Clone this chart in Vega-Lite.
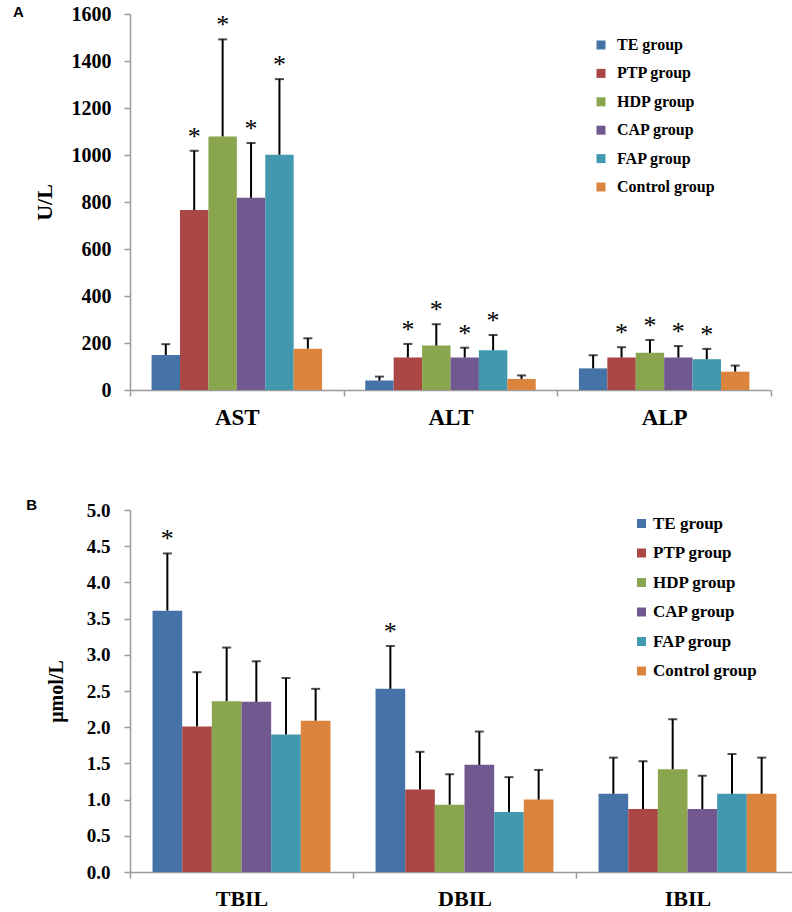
{
  "$schema": "https://vega.github.io/schema/vega-lite/v6.json",
  "background": "white",
  "padding": {"left": 13, "top": 4, "right": 0, "bottom": 0},
  "config": {
    "font": "Liberation Serif",
    "view": {"stroke": null},
    "axis": {"domainColor": "#9a9a9a", "tickColor": "#9a9a9a", "labelColor": "black", "titleColor": "black", "labelFontWeight": "bold", "titleFontWeight": "bold", "grid": false, "domainWidth": 1.5, "tickWidth": 1.5, "tickSize": 6},
    "title": {"font": "Liberation Sans", "fontSize": 15, "fontWeight": "bold", "anchor": "start", "frame": "bounds", "color": "black"},
    "legend": {"labelFontWeight": "bold", "labelColor": "black", "symbolType": "square", "symbolSize": 81, "symbolStrokeWidth": 0, "labelOffset": 8, "rowPadding": 12.4, "orient": "none"}
  },
  "datasets": {
    "a": [
      {"test": "AST", "group": "TE group", "mean": 149, "upper": 195, "sig": ""},
      {"test": "AST", "group": "PTP group", "mean": 766, "upper": 1018, "sig": "*"},
      {"test": "AST", "group": "HDP group", "mean": 1079, "upper": 1492, "sig": "*"},
      {"test": "AST", "group": "CAP group", "mean": 818, "upper": 1051, "sig": "*"},
      {"test": "AST", "group": "FAP group", "mean": 1001, "upper": 1323, "sig": "*"},
      {"test": "AST", "group": "Control group", "mean": 176, "upper": 220, "sig": ""},
      {"test": "ALT", "group": "TE group", "mean": 40, "upper": 57, "sig": ""},
      {"test": "ALT", "group": "PTP group", "mean": 138, "upper": 196, "sig": "*"},
      {"test": "ALT", "group": "HDP group", "mean": 189, "upper": 280, "sig": "*"},
      {"test": "ALT", "group": "CAP group", "mean": 138, "upper": 180, "sig": "*"},
      {"test": "ALT", "group": "FAP group", "mean": 169, "upper": 234, "sig": "*"},
      {"test": "ALT", "group": "Control group", "mean": 47, "upper": 62, "sig": ""},
      {"test": "ALP", "group": "TE group", "mean": 92, "upper": 148, "sig": ""},
      {"test": "ALP", "group": "PTP group", "mean": 138, "upper": 182, "sig": "*"},
      {"test": "ALP", "group": "HDP group", "mean": 158, "upper": 213, "sig": "*"},
      {"test": "ALP", "group": "CAP group", "mean": 138, "upper": 187, "sig": "*"},
      {"test": "ALP", "group": "FAP group", "mean": 131, "upper": 175, "sig": "*"},
      {"test": "ALP", "group": "Control group", "mean": 78, "upper": 104, "sig": ""}
    ],
    "b": [
      {"test": "TBIL", "group": "TE group", "mean": 3.61, "upper": 4.40, "sig": "*"},
      {"test": "TBIL", "group": "PTP group", "mean": 2.01, "upper": 2.76, "sig": ""},
      {"test": "TBIL", "group": "HDP group", "mean": 2.36, "upper": 3.10, "sig": ""},
      {"test": "TBIL", "group": "CAP group", "mean": 2.35, "upper": 2.91, "sig": ""},
      {"test": "TBIL", "group": "FAP group", "mean": 1.90, "upper": 2.68, "sig": ""},
      {"test": "TBIL", "group": "Control group", "mean": 2.09, "upper": 2.53, "sig": ""},
      {"test": "DBIL", "group": "TE group", "mean": 2.53, "upper": 3.12, "sig": "*"},
      {"test": "DBIL", "group": "PTP group", "mean": 1.14, "upper": 1.66, "sig": ""},
      {"test": "DBIL", "group": "HDP group", "mean": 0.93, "upper": 1.35, "sig": ""},
      {"test": "DBIL", "group": "CAP group", "mean": 1.48, "upper": 1.94, "sig": ""},
      {"test": "DBIL", "group": "FAP group", "mean": 0.83, "upper": 1.31, "sig": ""},
      {"test": "DBIL", "group": "Control group", "mean": 1.00, "upper": 1.41, "sig": ""},
      {"test": "IBIL", "group": "TE group", "mean": 1.08, "upper": 1.58, "sig": ""},
      {"test": "IBIL", "group": "PTP group", "mean": 0.87, "upper": 1.53, "sig": ""},
      {"test": "IBIL", "group": "HDP group", "mean": 1.42, "upper": 2.11, "sig": ""},
      {"test": "IBIL", "group": "CAP group", "mean": 0.87, "upper": 1.33, "sig": ""},
      {"test": "IBIL", "group": "FAP group", "mean": 1.08, "upper": 1.63, "sig": ""},
      {"test": "IBIL", "group": "Control group", "mean": 1.08, "upper": 1.58, "sig": ""}
    ]
  },
  "vconcat": [
    {
      "title": {"text": "A", "offset": -10, "dx": -20, "dy": 6},
      "width": 641,
      "height": 376,
      "data": {"name": "a"},
      "encoding": {
        "x": {"field": "test", "type": "nominal", "sort": null, "scale": {"paddingInner": 0, "paddingOuter": 0},
              "axis": {"title": null, "labelAngle": 0, "labelFontSize": 23, "tickBand": "extent", "labelPadding": 10}},
        "xOffset": {"field": "group", "type": "nominal", "sort": ["TE group", "PTP group", "HDP group", "CAP group", "FAP group", "Control group"], "scale": {"paddingInner": 0, "paddingOuter": 0.76}},
        "y": {"type": "quantitative", "scale": {"domain": [0, 1600], "nice": false},
              "axis": {"title": "U/L", "values": [0, 200, 400, 600, 800, 1000, 1200, 1400, 1600], "format": "d", "labelFontSize": 20, "titleFontSize": 22, "labelPadding": 13, "titlePadding": 15}}
      },
      "layer": [
        {
          "mark": {"type": "bar"},
          "encoding": {
            "y": {"field": "mean"},
            "color": {"field": "group", "type": "nominal",
                      "scale": {"domain": ["TE group", "PTP group", "HDP group", "CAP group", "FAP group", "Control group"], "range": ["#4572A7", "#AA4643", "#89A54E", "#71588F", "#4198AF", "#DB843D"]},
                      "legend": {"title": null, "legendX": 463, "legendY": 23, "labelFontSize": 16}}
          }
        },
        {
          "mark": {"type": "rule", "color": "black", "strokeWidth": 2},
          "encoding": {"y": {"field": "mean"}, "y2": {"field": "upper"}}
        },
        {
          "mark": {"type": "tick", "color": "black", "thickness": 2, "size": 9},
          "encoding": {"y": {"field": "upper"}}
        },
        {
          "transform": [{"filter": "datum.sig == '*'"}],
          "mark": {"type": "text", "fontSize": 26, "dy": -6, "baseline": "alphabetic", "color": "black"},
          "encoding": {"y": {"field": "upper"}, "text": {"field": "sig"}}
        }
      ]
    },
    {
      "title": {"text": "B", "offset": -10, "dx": -20, "dy": 2},
      "width": 669,
      "height": 362,
      "data": {"name": "b"},
      "encoding": {
        "x": {"field": "test", "type": "nominal", "sort": null, "scale": {"paddingInner": 0, "paddingOuter": 0},
              "axis": {"title": null, "labelAngle": 0, "labelFontSize": 22, "tickBand": "extent", "labelPadding": 10}},
        "xOffset": {"field": "group", "type": "nominal", "sort": ["TE group", "PTP group", "HDP group", "CAP group", "FAP group", "Control group"], "scale": {"paddingInner": 0, "paddingOuter": 0.76}},
        "y": {"type": "quantitative", "scale": {"domain": [0, 5], "nice": false},
              "axis": {"title": "μmol/L", "values": [0, 0.5, 1, 1.5, 2, 2.5, 3, 3.5, 4, 4.5, 5], "format": ".1f", "labelFontSize": 19, "titleFontSize": 20, "labelPadding": 14, "titlePadding": 20}}
      },
      "layer": [
        {
          "mark": {"type": "bar"},
          "encoding": {
            "y": {"field": "mean"},
            "color": {"field": "group", "type": "nominal",
                      "scale": {"domain": ["TE group", "PTP group", "HDP group", "CAP group", "FAP group", "Control group"], "range": ["#4572A7", "#AA4643", "#89A54E", "#71588F", "#4198AF", "#DB843D"]},
                      "legend": {"title": null, "legendX": 503, "legendY": 5, "labelFontSize": 17, "labelOffset": 3, "rowPadding": 11.5}}
          }
        },
        {
          "mark": {"type": "rule", "color": "black", "strokeWidth": 2},
          "encoding": {"y": {"field": "mean"}, "y2": {"field": "upper"}}
        },
        {
          "mark": {"type": "tick", "color": "black", "thickness": 2, "size": 9},
          "encoding": {"y": {"field": "upper"}}
        },
        {
          "transform": [{"filter": "datum.sig == '*'"}],
          "mark": {"type": "text", "fontSize": 26, "dy": -6, "baseline": "alphabetic", "color": "black"},
          "encoding": {"y": {"field": "upper"}, "text": {"field": "sig"}}
        }
      ]
    }
  ],
  "spacing": 69,
  "resolve": {"scale": {"x": "independent", "y": "independent", "xOffset": "independent", "color": "independent"}, "legend": {"color": "independent"}}
}
